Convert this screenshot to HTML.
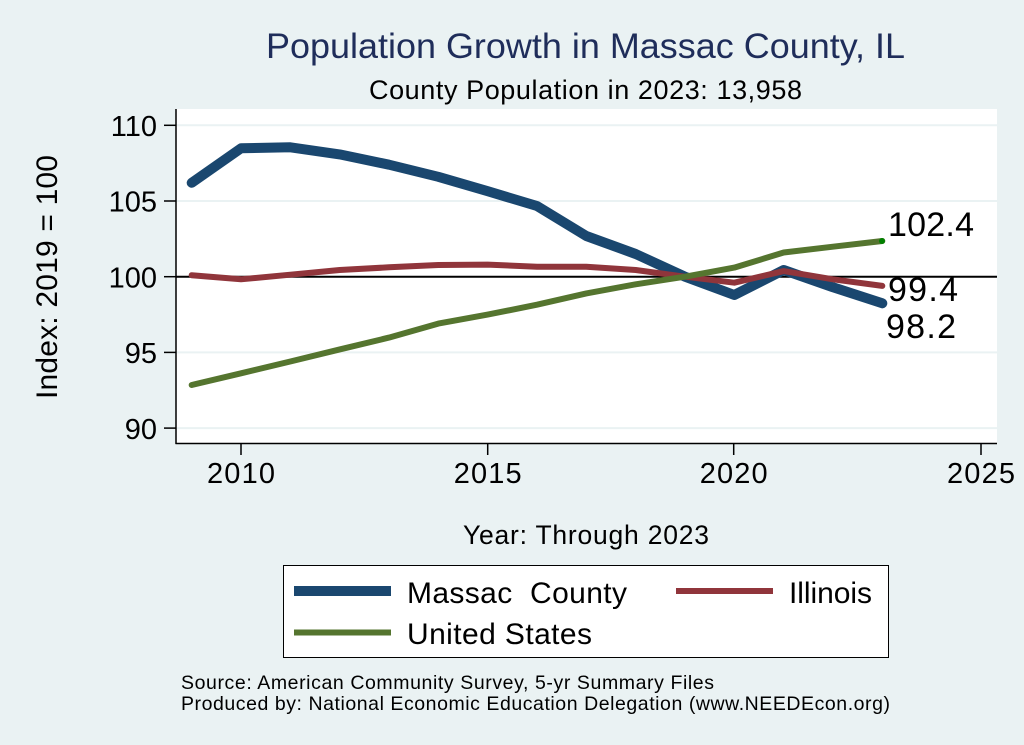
<!DOCTYPE html>
<html><head><meta charset="utf-8"><style>
html,body{margin:0;padding:0;background:#EAF2F3;}
svg{display:block;}
text{font-family:"Liberation Sans",Arial,sans-serif;}
</style></head><body>
<svg width="1024" height="745" viewBox="0 0 1024 745" xmlns="http://www.w3.org/2000/svg">
<rect x="0" y="0" width="1024" height="745" fill="#EAF2F3"/>
<!-- plot region -->
<rect x="176" y="109" width="821" height="334" fill="#FFFFFF"/>
<!-- gridlines -->
<g stroke="#EAF2F3" stroke-width="2">
<line x1="176" y1="125.3" x2="997" y2="125.3"/>
<line x1="176" y1="201" x2="997" y2="201"/>
<line x1="176" y1="352.4" x2="997" y2="352.4"/>
<line x1="176" y1="428.1" x2="997" y2="428.1"/>
</g>
<!-- reference line at 100 -->
<line x1="176" y1="276.7" x2="997" y2="276.7" stroke="#000" stroke-width="2"/>
<!-- axes -->
<line x1="176" y1="109" x2="176" y2="444" stroke="#000" stroke-width="1.5"/>
<line x1="175.5" y1="443.5" x2="997" y2="443.5" stroke="#000" stroke-width="1.5"/>
<!-- ticks -->
<g stroke="#000" stroke-width="1.5">
<line x1="164" y1="125.3" x2="176" y2="125.3"/>
<line x1="164" y1="201" x2="176" y2="201"/>
<line x1="164" y1="276.7" x2="176" y2="276.7"/>
<line x1="164" y1="352.4" x2="176" y2="352.4"/>
<line x1="164" y1="428.1" x2="176" y2="428.1"/>
<line x1="241" y1="443" x2="241" y2="455"/>
<line x1="487.7" y1="443" x2="487.7" y2="455"/>
<line x1="733.7" y1="443" x2="733.7" y2="455"/>
<line x1="981" y1="443" x2="981" y2="455"/>
</g>
<g font-size="29" fill="#000" text-anchor="end">
<text x="157" y="136">110</text>
<text x="157" y="211.5">105</text>
<text x="157" y="287.5">100</text>
<text x="157" y="363">95</text>
<text x="157" y="439">90</text>
</g>
<g font-size="29" fill="#000" text-anchor="middle">
<text x="241" y="483" textLength="68" lengthAdjust="spacing">2010</text>
<text x="487.7" y="483" textLength="68" lengthAdjust="spacing">2015</text>
<text x="733.7" y="483" textLength="68" lengthAdjust="spacing">2020</text>
<text x="981" y="483" textLength="68" lengthAdjust="spacing">2025</text>
</g>
<!-- series -->
<g fill="none" stroke-linejoin="round">
<polyline stroke="#1A476F" stroke-width="10" stroke-linecap="round" points="191.7,182.8 241,148.3 290.3,147.3 339.7,154.4 389,164.7 438.3,176.8 487.7,191.2 537,206.0 586.3,236.0 635.7,254.0 685,276.7 734.3,295.0 783.7,270.0 833,287.3 882.3,303.3"/>
<polyline stroke="#90353B" stroke-width="6" stroke-linecap="round" points="191.7,275.2 241,279.3 290.3,274.7 339.7,270.0 389,267.3 438.3,265.0 487.7,264.6 537,266.7 586.3,266.7 635.7,270.0 685,276.7 734.3,282.7 783.7,271.1 833,279.3 882.3,285.9"/>
<polyline stroke="#55752F" stroke-width="6" stroke-linecap="round" points="191.7,385.0 241,373.3 290.3,361.5 339.7,349.4 389,337.6 438.3,323.6 487.7,314.6 537,304.7 586.3,293.4 635.7,284.3 685,276.7 734.3,267.6 783.7,252.5 833,246.7 882.3,241.0"/>
</g>
<circle cx="882" cy="241" r="3" fill="#008000"/>
<!-- end labels -->
<g font-size="34" fill="#000">
<text x="888" y="236" textLength="86" lengthAdjust="spacing">102.4</text>
<text x="888" y="301" textLength="70" lengthAdjust="spacing">99.4</text>
<text x="886" y="338" textLength="70" lengthAdjust="spacing">98.2</text>
</g>
<!-- titles -->
<text x="266" y="58" font-size="35" fill="#1F2D5A" textLength="639" lengthAdjust="spacingAndGlyphs">Population Growth in Massac County, IL</text>
<text x="369" y="99" font-size="27" fill="#000" textLength="433" lengthAdjust="spacing">County Population in 2023: 13,958</text>
<text x="463" y="544" font-size="26.5" fill="#000" textLength="246" lengthAdjust="spacing">Year: Through 2023</text>
<text transform="translate(57,399) rotate(-90)" font-size="30" fill="#000" textLength="244" lengthAdjust="spacing">Index: 2019 = 100</text>
<!-- legend -->
<rect x="283.5" y="565.5" width="605" height="92" fill="#FFFFFF" stroke="#000" stroke-width="1"/>
<line x1="294" y1="591" x2="391" y2="591" stroke="#1A476F" stroke-width="10"/>
<line x1="676" y1="591" x2="773" y2="591" stroke="#90353B" stroke-width="6"/>
<line x1="294" y1="632.5" x2="391" y2="632.5" stroke="#55752F" stroke-width="6"/>
<g font-size="30" fill="#000">
<text x="407" y="603" style="white-space:pre" textLength="220" lengthAdjust="spacing">Massac  County</text>
<text x="789" y="603" textLength="83" lengthAdjust="spacing">Illinois</text>
<text x="407" y="644" textLength="185" lengthAdjust="spacing">United States</text>
</g>
<!-- notes -->
<g font-size="19.5" fill="#000">
<text x="181" y="689" textLength="533" lengthAdjust="spacing">Source: American Community Survey, 5-yr Summary Files</text>
<text x="181" y="710" textLength="709" lengthAdjust="spacing">Produced by: National Economic Education Delegation (www.NEEDEcon.org)</text>
</g>
</svg>
</body></html>
